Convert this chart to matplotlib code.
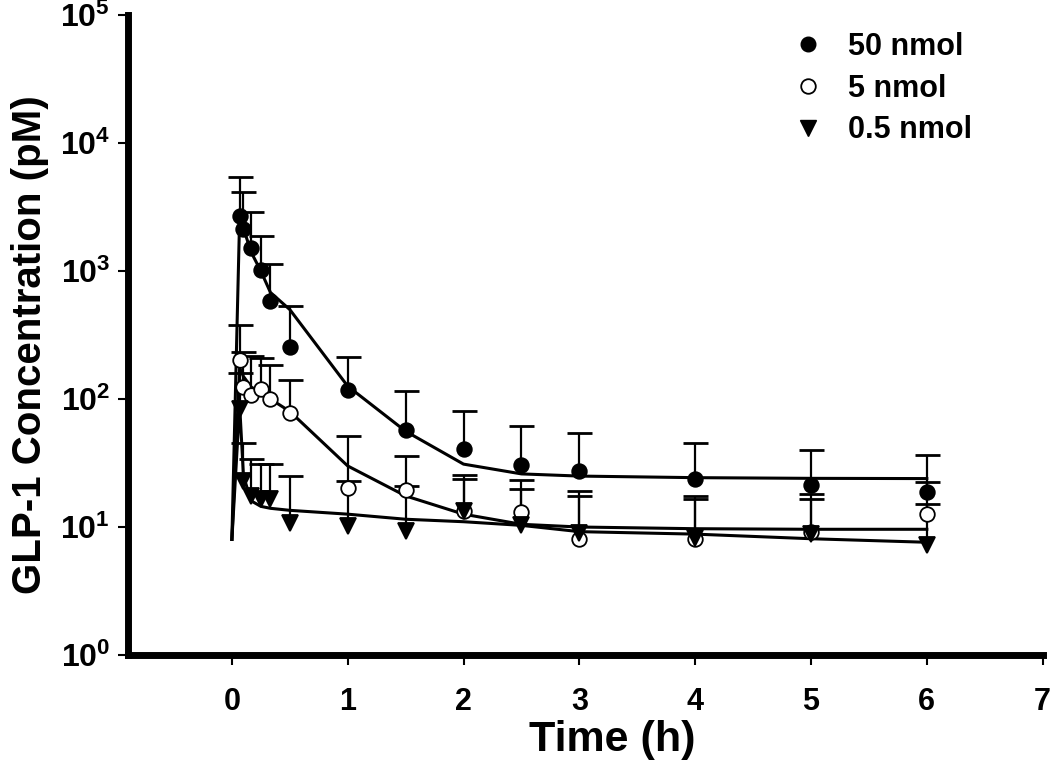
import numpy as np
import matplotlib
matplotlib.use("Agg")
import matplotlib.pyplot as plt
from matplotlib.lines import Line2D
from matplotlib.ticker import FixedLocator, FuncFormatter, NullLocator

plt.rcParams['font.family'] = 'Liberation Sans'
plt.rcParams['font.weight'] = 'bold'
plt.rcParams['mathtext.fontset'] = 'custom'
plt.rcParams['mathtext.rm'] = 'Liberation Sans:bold'
plt.rcParams['mathtext.bf'] = 'Liberation Sans:bold'
plt.rcParams['mathtext.default'] = 'rm'

# sampling times (h)
t_obs = [0.067, 0.1, 0.167, 0.25, 0.333, 0.5, 1, 1.5, 2, 2.5, 3, 4, 5, 6]

# 50 nmol: mean and mean+SD
c50 = [2670, 2140, 1500, 1010, 580, 256, 117, 57, 40.5, 30.3, 27.4, 23.6, 21.2, 18.7]
u50 = [5380, 4140, 2890, 1870, 1135, 531, 212, 115, 80.5, 62, 54, 45, 39.7, 36.3]

# 5 nmol
c5 = [200, 125, 107, 120, 100, 78, 20.3, 19.4, 13.4, 13.1, 8.0, 8.0, 9.1, 12.6]
u5 = [380, 231, 215, 211, 183, 141, 51, 36, 25.5, 23.3, 19.1, 17.5, 18, 22.3]

# 0.5 nmol
c05 = [83, 22.9, 17.5, 16.5, 16.5, 10.8, 10.2, 9.3, 13.3, 10.3, 9.0, 8.2, 8.8, 7.3]
u05 = [160, 45, 33.8, 31.3, 31.3, 25, 22.9, 21, 23.8, 19.7, 17.5, 16.5, 16.5, 15.2]

# model fits
t_fit = [0, 0.067, 0.1, 0.167, 0.25, 0.333, 0.5, 1, 1.5, 2, 2.5, 3, 4, 5, 6]
f50 = [8, 2600, 2150, 1400, 1000, 680, 500, 126, 56, 31, 26, 25, 24.3, 24, 23.9]
f5 = [8, 175, 150, 124, 112, 100, 80, 30, 17.5, 12.6, 10.5, 10.0, 9.7, 9.6, 9.6]
f05 = [8, 90, 25, 16, 14.5, 14, 13.5, 12.6, 11.5, 11.0, 10.3, 9.2, 8.8, 8.1, 7.6]

labels = ['50 nmol', '5 nmol', '0.5 nmol']

fig = plt.figure(figsize=(10.5, 7.62), dpi=100)
ax = fig.add_axes([0.122, 0.1404, 0.871, 0.8399])

for f in [f50, f5, f05]:
    ax.plot(t_fit, f, color='k', lw=2.2, zorder=2)

series = [(c50, u50, 'o', 'k'), (c5, u5, 'o', 'white'), (c05, u05, 'v', 'k')]
for c, u, m, fc in series:
    ax.vlines(t_obs, c, u, colors='k', lw=1.6, zorder=1)
    ax.plot(t_obs, u, ls='none', marker='_', ms=18, mew=2, color='k', zorder=1)
    ax.plot(t_obs, c, ls='none', marker=m, ms=12 if m == 'v' else 10.5,
            mfc=fc, mec='k', mew=1.3, zorder=3)

ax.set_yscale('log')
ax.set_xlim(-0.896, 7)
ax.set_ylim(1, 1e5)
ax.xaxis.set_major_locator(FixedLocator(range(8)))
ax.yaxis.set_major_locator(FixedLocator([1, 10, 100, 1e3, 1e4, 1e5]))
ax.yaxis.set_minor_locator(NullLocator())
ax.yaxis.set_major_formatter(FuncFormatter(lambda v, p: r'$10^{%d}$' % round(np.log10(v))))

for s in ['top', 'right']:
    ax.spines[s].set_visible(False)
for s in ['left', 'bottom']:
    ax.spines[s].set_linewidth(5)
ax.tick_params(axis='x', length=7, width=1.5, pad=16, labelsize=22)
ax.tick_params(axis='y', length=7, width=1.5, pad=6, labelsize=23)

ax.set_xlabel('Time (h)', fontsize=31, fontweight='bold')
ax.xaxis.set_label_coords(612 / 1050, 1 - 740 / 762, transform=fig.transFigure)
ax.set_ylabel('GLP-1 Concentration (pM)', fontsize=29, fontweight='bold')
ax.yaxis.set_label_coords(30 / 1050, 1 - 345 / 762, transform=fig.transFigure)
ax.xaxis.label.set_va('center')
ax.yaxis.label.set_va('center')

handles = [Line2D([], [], ls='none', marker='o', ms=10.5, mfc='k', mec='k'),
           Line2D([], [], ls='none', marker='o', ms=10.5, mfc='white', mec='k', mew=1.3),
           Line2D([], [], ls='none', marker='v', ms=12, mfc='k', mec='k')]
ax.legend(handles, labels, loc='upper left', bbox_to_anchor=(0.740, 0.978),
          bbox_transform=fig.transFigure, frameon=False, fontsize=22,
          handlelength=1, handletextpad=0.82, labelspacing=0.38, borderpad=0)

fig.savefig('out.png', dpi=100)
